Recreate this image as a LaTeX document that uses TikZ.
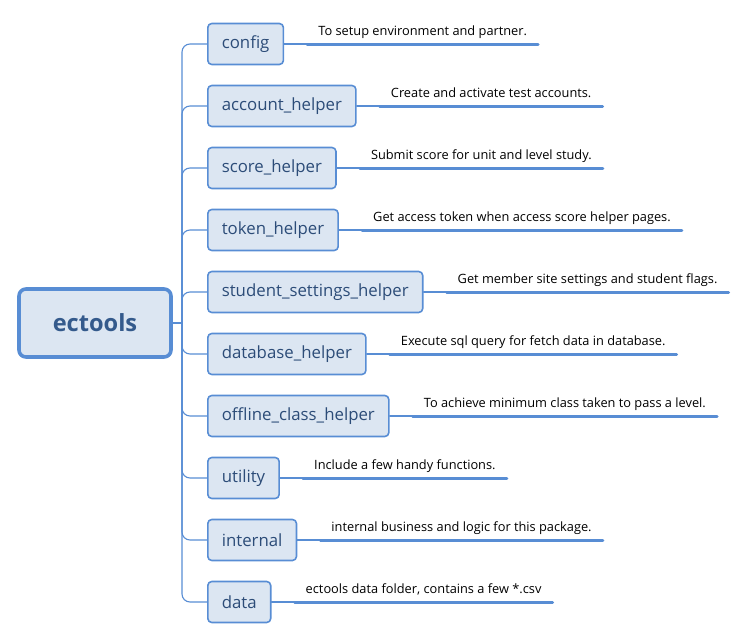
\documentclass[tikz,border=0pt]{standalone}
\usepackage{fontspec}
\setmainfont{Open Sans}
\definecolor{mmblue}{RGB}{88,141,212}
\definecolor{mmfill}{RGB}{220,230,242}
\definecolor{mmtext}{RGB}{44,76,120}
\definecolor{mmroot}{RGB}{52,90,140}
\begin{document}
\begin{tikzpicture}[x=1pt, y=-1pt, line join=round, line cap=round,
    topic/.style={draw=mmblue, fill=mmfill, line width=1.6pt, rounded corners=4pt,
        minimum height=41pt, inner xsep=14pt, text=mmtext, anchor=west,
        font=\fontsize{16.8}{20}\selectfont},
    roottopic/.style={topic, line width=3.6pt, rounded corners=7pt, anchor=center, text=mmroot,
        minimum width=152pt, minimum height=68pt, font=\fontsize{23.6}{28}\selectfont\bfseries},
    note/.style={anchor=south west, inner xsep=11pt, inner ysep=8pt, text depth=0pt,
        font=\fontsize{12.8}{15}\selectfont},
    branch/.style={draw=mmblue, line width=1.1pt}]
    \useasboundingbox (0,0) rectangle (748,640);
    \node[roottopic] (ectools) at (95,323) {ectools};
    \coordinate (hub) at (182,323);
    \draw[branch] (ectools.east) -- (hub);
    \foreach \t/\d [count=\i] in {
        config/To setup environment and partner.,
        account\_helper/Create and activate test accounts.,
        score\_helper/Submit score for unit and level study.,
        token\_helper/Get access token when access score helper pages.,
        student\_settings\_helper/Get member site settings and student flags.,
        database\_helper/Execute sql query for fetch data in database.,
        offline\_class\_helper/To achieve minimum class taken to pass a level.,
        utility/Include a few handy functions.,
        internal/internal business and logic for this package.,
        data/{ectools data folder, contains a few *.csv}}
    {
        \node[topic] (n\i) at (207,{44+62*(\i-1)}) {\t};
        \node[note] (d\i) at ([xshift=23pt]n\i.east) {\d};
        \draw[branch, rounded corners=8pt] (hub) |- (n\i.west);
        \draw[branch] (n\i.east) -- (d\i.south west);
        \draw[mmblue, line width=3pt] (d\i.south west) -- (d\i.south east);
    }
\end{tikzpicture}
\end{document}
